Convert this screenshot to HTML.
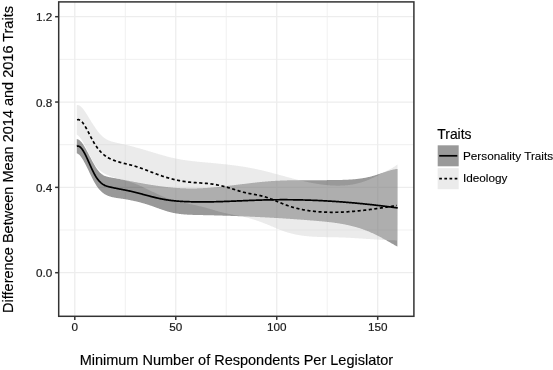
<!DOCTYPE html>
<html><head><meta charset="utf-8"><style>
html,body{margin:0;padding:0;background:#fff;}
svg{display:block;will-change:transform;}
.gmin{stroke:#eeeeee;stroke-width:0.9;}
.gmaj{stroke:#ededed;stroke-width:1.3;}
.border{fill:none;stroke:#333;stroke-width:1.5;}
.tick{stroke:#333;stroke-width:1.5;}
.lp{fill:none;stroke:#000;stroke-width:1.7;}
.li{fill:none;stroke:#000;stroke-width:1.7;stroke-dasharray:3.1 2.5;}
text{font-family:"Liberation Sans",sans-serif;}
.tl{font-size:11.7px;fill:#1a1a1a;stroke:#1a1a1a;stroke-width:0.2px;}
.at{font-size:14.5px;fill:#000;stroke:#000;stroke-width:0.15px;}
.lg{font-size:13.9px;fill:#000;stroke:#000;stroke-width:0.15px;}
.lt{font-size:11.75px;fill:#000;stroke:#000;stroke-width:0.12px;}
</style></head><body>
<svg width="553" height="370" viewBox="0 0 553 370">
<rect width="553" height="370" fill="#fff"/>
<line x1="125.28" y1="1.90" x2="125.28" y2="316.30" class="gmin"/>
<line x1="226.25" y1="1.90" x2="226.25" y2="316.30" class="gmin"/>
<line x1="327.21" y1="1.90" x2="327.21" y2="316.30" class="gmin"/>
<line x1="58.70" y1="230.03" x2="413.90" y2="230.03" class="gmin"/>
<line x1="58.70" y1="144.70" x2="413.90" y2="144.70" class="gmin"/>
<line x1="58.70" y1="59.37" x2="413.90" y2="59.37" class="gmin"/>
<line x1="74.80" y1="1.90" x2="74.80" y2="316.30" class="gmaj"/>
<line x1="175.76" y1="1.90" x2="175.76" y2="316.30" class="gmaj"/>
<line x1="276.73" y1="1.90" x2="276.73" y2="316.30" class="gmaj"/>
<line x1="377.69" y1="1.90" x2="377.69" y2="316.30" class="gmaj"/>
<line x1="58.70" y1="272.70" x2="413.90" y2="272.70" class="gmaj"/>
<line x1="58.70" y1="187.37" x2="413.90" y2="187.37" class="gmaj"/>
<line x1="58.70" y1="102.04" x2="413.90" y2="102.04" class="gmaj"/>
<line x1="58.70" y1="16.70" x2="413.90" y2="16.70" class="gmaj"/>
<path d="M76.80 139.09L77.30 139.13L77.80 139.25L78.30 139.45L78.80 139.72L79.30 140.05L79.80 140.45L80.30 140.91L80.80 141.42L81.30 141.99L81.80 142.60L82.30 143.27L82.80 143.97L83.30 144.71L83.80 145.49L84.30 146.31L84.80 147.15L85.30 148.01L85.80 148.90L86.30 149.80L86.80 150.72L87.30 151.65L87.80 152.59L88.30 153.54L88.80 154.50L89.30 155.45L89.80 156.41L90.30 157.36L90.80 158.32L91.30 159.26L91.80 160.20L92.30 161.13L92.80 162.05L93.30 162.95L93.80 163.84L94.30 164.71L94.80 165.55L95.30 166.38L95.80 167.18L96.30 167.95L96.80 168.69L97.30 169.40L97.80 170.08L98.30 170.72L98.80 171.33L99.30 171.89L99.80 172.41L100.30 172.90L100.80 173.35L101.30 173.77L101.80 174.16L102.30 174.51L102.80 174.83L103.30 175.13L103.80 175.40L104.30 175.65L104.80 175.88L105.30 176.08L105.80 176.27L106.30 176.44L106.80 176.59L107.30 176.73L107.80 176.85L108.30 176.97L108.80 177.08L109.30 177.18L109.80 177.27L110.30 177.36L110.80 177.45L111.30 177.54L111.80 177.63L112.30 177.72L112.80 177.81L113.30 177.90L113.80 177.99L114.30 178.08L114.80 178.18L115.30 178.27L115.80 178.36L116.30 178.46L116.80 178.55L117.30 178.64L117.80 178.74L118.30 178.83L118.80 178.93L119.30 179.02L119.80 179.12L120.30 179.21L120.80 179.31L121.30 179.41L121.80 179.50L122.30 179.60L122.80 179.70L123.30 179.79L123.80 179.89L124.30 179.99L124.80 180.08L125.30 180.18L125.80 180.28L126.30 180.37L126.80 180.47L127.30 180.57L127.80 180.67L128.30 180.76L128.80 180.86L129.30 180.96L129.80 181.05L130.30 181.15L130.80 181.24L131.30 181.34L131.80 181.43L132.30 181.53L132.80 181.62L133.30 181.72L133.80 181.81L134.30 181.91L134.80 182.00L135.30 182.10L135.80 182.19L136.30 182.28L136.80 182.37L137.30 182.47L137.80 182.56L138.30 182.65L138.80 182.74L139.30 182.83L139.80 182.92L140.30 183.01L140.80 183.10L141.30 183.19L141.80 183.28L142.30 183.37L142.80 183.46L143.30 183.55L143.80 183.63L144.30 183.72L144.80 183.81L145.30 183.89L145.80 183.98L146.30 184.06L146.80 184.15L147.30 184.23L147.80 184.31L148.30 184.39L148.80 184.48L149.30 184.56L149.80 184.64L150.30 184.72L150.80 184.80L151.30 184.88L151.80 184.96L152.30 185.04L152.80 185.11L153.30 185.19L153.80 185.27L154.30 185.34L154.80 185.42L155.30 185.49L155.80 185.56L156.30 185.64L156.80 185.71L157.30 185.78L157.80 185.85L158.30 185.92L158.80 185.99L159.30 186.06L159.80 186.13L160.30 186.19L160.80 186.26L161.30 186.32L161.80 186.39L162.30 186.45L162.80 186.52L163.30 186.58L163.80 186.64L164.30 186.70L164.80 186.76L165.30 186.82L165.80 186.88L166.30 186.93L166.80 186.99L167.30 187.04L167.80 187.10L168.30 187.15L168.80 187.21L169.30 187.26L169.80 187.31L170.30 187.36L170.80 187.41L171.30 187.45L171.80 187.50L172.30 187.55L172.80 187.59L173.30 187.63L173.80 187.68L174.30 187.72L174.80 187.76L175.30 187.80L175.80 187.84L176.30 187.87L176.80 187.91L177.30 187.95L177.80 187.98L178.30 188.01L178.80 188.05L179.30 188.08L179.80 188.11L180.30 188.14L180.80 188.16L181.30 188.19L181.80 188.21L182.30 188.24L182.80 188.26L183.30 188.28L183.80 188.30L184.30 188.32L184.80 188.34L185.30 188.36L185.80 188.37L186.30 188.39L186.80 188.40L187.30 188.41L187.80 188.42L188.30 188.43L188.80 188.44L189.30 188.44L189.80 188.45L190.30 188.45L190.80 188.45L191.30 188.46L191.80 188.46L192.30 188.45L192.80 188.45L193.30 188.45L193.80 188.44L194.30 188.44L194.80 188.43L195.30 188.42L195.80 188.41L196.30 188.40L196.80 188.38L197.30 188.37L197.80 188.36L198.30 188.34L198.80 188.32L199.30 188.30L199.80 188.29L200.30 188.27L200.80 188.24L201.30 188.22L201.80 188.20L202.30 188.17L202.80 188.15L203.30 188.12L203.80 188.09L204.30 188.07L204.80 188.04L205.30 188.01L205.80 187.98L206.30 187.94L206.80 187.91L207.30 187.88L207.80 187.84L208.30 187.81L208.80 187.77L209.30 187.73L209.80 187.69L210.30 187.66L210.80 187.62L211.30 187.58L211.80 187.53L212.30 187.49L212.80 187.45L213.30 187.41L213.80 187.36L214.30 187.32L214.80 187.27L215.30 187.23L215.80 187.18L216.30 187.13L216.80 187.08L217.30 187.04L217.80 186.99L218.30 186.94L218.80 186.89L219.30 186.83L219.80 186.78L220.30 186.73L220.80 186.68L221.30 186.63L221.80 186.57L222.30 186.52L222.80 186.46L223.30 186.41L223.80 186.35L224.30 186.30L224.80 186.24L225.30 186.19L225.80 186.13L226.30 186.07L226.80 186.01L227.30 185.96L227.80 185.90L228.30 185.84L228.80 185.78L229.30 185.72L229.80 185.66L230.30 185.60L230.80 185.54L231.30 185.48L231.80 185.42L232.30 185.36L232.80 185.30L233.30 185.24L233.80 185.18L234.30 185.12L234.80 185.05L235.30 184.99L235.80 184.93L236.30 184.87L236.80 184.81L237.30 184.74L237.80 184.68L238.30 184.62L238.80 184.56L239.30 184.50L239.80 184.43L240.30 184.37L240.80 184.31L241.30 184.25L241.80 184.19L242.30 184.12L242.80 184.06L243.30 184.00L243.80 183.94L244.30 183.88L244.80 183.82L245.30 183.76L245.80 183.69L246.30 183.63L246.80 183.57L247.30 183.51L247.80 183.45L248.30 183.39L248.80 183.33L249.30 183.27L249.80 183.21L250.30 183.15L250.80 183.10L251.30 183.04L251.80 182.98L252.30 182.92L252.80 182.86L253.30 182.81L253.80 182.75L254.30 182.69L254.80 182.64L255.30 182.58L255.80 182.53L256.30 182.47L256.80 182.42L257.30 182.37L257.80 182.31L258.30 182.26L258.80 182.21L259.30 182.16L259.80 182.11L260.30 182.06L260.80 182.01L261.30 181.96L261.80 181.91L262.30 181.86L262.80 181.81L263.30 181.77L263.80 181.72L264.30 181.67L264.80 181.63L265.30 181.59L265.80 181.54L266.30 181.50L266.80 181.46L267.30 181.42L267.80 181.38L268.30 181.34L268.80 181.30L269.30 181.26L269.80 181.22L270.30 181.18L270.80 181.15L271.30 181.11L271.80 181.08L272.30 181.05L272.80 181.01L273.30 180.98L273.80 180.95L274.30 180.92L274.80 180.89L275.30 180.86L275.80 180.84L276.30 180.81L276.80 180.78L277.30 180.76L277.80 180.73L278.30 180.71L278.80 180.68L279.30 180.66L279.80 180.64L280.30 180.62L280.80 180.60L281.30 180.57L281.80 180.55L282.30 180.54L282.80 180.52L283.30 180.50L283.80 180.48L284.30 180.46L284.80 180.45L285.30 180.43L285.80 180.42L286.30 180.40L286.80 180.39L287.30 180.37L287.80 180.36L288.30 180.35L288.80 180.34L289.30 180.32L289.80 180.31L290.30 180.30L290.80 180.29L291.30 180.28L291.80 180.27L292.30 180.26L292.80 180.26L293.30 180.25L293.80 180.24L294.30 180.23L294.80 180.23L295.30 180.22L295.80 180.21L296.30 180.21L296.80 180.20L297.30 180.20L297.80 180.19L298.30 180.19L298.80 180.18L299.30 180.18L299.80 180.17L300.30 180.17L300.80 180.17L301.30 180.16L301.80 180.16L302.30 180.16L302.80 180.16L303.30 180.15L303.80 180.15L304.30 180.15L304.80 180.15L305.30 180.15L305.80 180.15L306.30 180.15L306.80 180.14L307.30 180.14L307.80 180.14L308.30 180.14L308.80 180.14L309.30 180.14L309.80 180.14L310.30 180.14L310.80 180.14L311.30 180.14L311.80 180.14L312.30 180.14L312.80 180.14L313.30 180.14L313.80 180.14L314.30 180.14L314.80 180.14L315.30 180.14L315.80 180.14L316.30 180.14L316.80 180.14L317.30 180.14L317.80 180.14L318.30 180.14L318.80 180.14L319.30 180.14L319.80 180.14L320.30 180.14L320.80 180.14L321.30 180.14L321.80 180.14L322.30 180.14L322.80 180.14L323.30 180.14L323.80 180.14L324.30 180.14L324.80 180.13L325.30 180.13L325.80 180.13L326.30 180.13L326.80 180.13L327.30 180.12L327.80 180.12L328.30 180.12L328.80 180.11L329.30 180.11L329.80 180.11L330.30 180.10L330.80 180.10L331.30 180.09L331.80 180.09L332.30 180.08L332.80 180.07L333.30 180.07L333.80 180.06L334.30 180.05L334.80 180.05L335.30 180.04L335.80 180.03L336.30 180.02L336.80 180.01L337.30 180.00L337.80 179.99L338.30 179.98L338.80 179.97L339.30 179.96L339.80 179.95L340.30 179.94L340.80 179.93L341.30 179.91L341.80 179.90L342.30 179.88L342.80 179.87L343.30 179.85L343.80 179.84L344.30 179.82L344.80 179.80L345.30 179.78L345.80 179.76L346.30 179.74L346.80 179.72L347.30 179.69L347.80 179.67L348.30 179.64L348.80 179.62L349.30 179.59L349.80 179.56L350.30 179.53L350.80 179.50L351.30 179.46L351.80 179.43L352.30 179.39L352.80 179.35L353.30 179.31L353.80 179.27L354.30 179.23L354.80 179.18L355.30 179.13L355.80 179.08L356.30 179.03L356.80 178.98L357.30 178.92L357.80 178.87L358.30 178.81L358.80 178.75L359.30 178.68L359.80 178.62L360.30 178.55L360.80 178.48L361.30 178.41L361.80 178.33L362.30 178.25L362.80 178.17L363.30 178.09L363.80 178.00L364.30 177.92L364.80 177.83L365.30 177.73L365.80 177.64L366.30 177.54L366.80 177.43L367.30 177.33L367.80 177.22L368.30 177.11L368.80 177.00L369.30 176.88L369.80 176.76L370.30 176.64L370.80 176.51L371.30 176.38L371.80 176.25L372.30 176.11L372.80 175.97L373.30 175.82L373.80 175.68L374.30 175.53L374.80 175.38L375.30 175.22L375.80 175.06L376.30 174.90L376.80 174.74L377.30 174.58L377.80 174.41L378.30 174.25L378.80 174.08L379.30 173.91L379.80 173.74L380.30 173.57L380.80 173.40L381.30 173.23L381.80 173.06L382.30 172.89L382.80 172.72L383.30 172.55L383.80 172.38L384.30 172.22L384.80 172.05L385.30 171.89L385.80 171.72L386.30 171.56L386.80 171.40L387.30 171.25L387.80 171.09L388.30 170.94L388.80 170.79L389.30 170.65L389.80 170.50L390.30 170.36L390.80 170.23L391.30 170.10L391.80 169.97L392.30 169.84L392.80 169.72L393.30 169.61L393.80 169.50L394.30 169.40L394.80 169.30L395.30 169.20L395.80 169.11L396.30 169.03L396.80 168.95L397.30 168.88L397.50 168.86L397.40 246.65L397.30 246.59L396.80 246.31L396.30 246.02L395.80 245.74L395.30 245.45L394.80 245.17L394.30 244.88L393.80 244.60L393.30 244.31L392.80 244.03L392.30 243.74L391.80 243.45L391.30 243.17L390.80 242.88L390.30 242.60L389.80 242.31L389.30 242.03L388.80 241.75L388.30 241.46L387.80 241.18L387.30 240.90L386.80 240.62L386.30 240.34L385.80 240.06L385.30 239.78L384.80 239.50L384.30 239.23L383.80 238.95L383.30 238.68L382.80 238.41L382.30 238.14L381.80 237.87L381.30 237.60L380.80 237.33L380.30 237.07L379.80 236.80L379.30 236.54L378.80 236.28L378.30 236.02L377.80 235.77L377.30 235.51L376.80 235.26L376.30 235.01L375.80 234.77L375.30 234.52L374.80 234.28L374.30 234.04L373.80 233.80L373.30 233.57L372.80 233.33L372.30 233.10L371.80 232.88L371.30 232.65L370.80 232.43L370.30 232.21L369.80 232.00L369.30 231.78L368.80 231.57L368.30 231.37L367.80 231.16L367.30 230.96L366.80 230.76L366.30 230.57L365.80 230.38L365.30 230.19L364.80 230.00L364.30 229.82L363.80 229.63L363.30 229.45L362.80 229.28L362.30 229.10L361.80 228.93L361.30 228.76L360.80 228.60L360.30 228.44L359.80 228.27L359.30 228.12L358.80 227.96L358.30 227.81L357.80 227.65L357.30 227.51L356.80 227.36L356.30 227.21L355.80 227.07L355.30 226.93L354.80 226.79L354.30 226.66L353.80 226.53L353.30 226.40L352.80 226.27L352.30 226.14L351.80 226.01L351.30 225.89L350.80 225.77L350.30 225.65L349.80 225.54L349.30 225.42L348.80 225.31L348.30 225.20L347.80 225.09L347.30 224.98L346.80 224.88L346.30 224.77L345.80 224.67L345.30 224.57L344.80 224.47L344.30 224.37L343.80 224.28L343.30 224.19L342.80 224.09L342.30 224.00L341.80 223.92L341.30 223.83L340.80 223.74L340.30 223.66L339.80 223.58L339.30 223.49L338.80 223.41L338.30 223.34L337.80 223.26L337.30 223.18L336.80 223.11L336.30 223.04L335.80 222.96L335.30 222.89L334.80 222.82L334.30 222.76L333.80 222.69L333.30 222.62L332.80 222.56L332.30 222.49L331.80 222.43L331.30 222.37L330.80 222.31L330.30 222.25L329.80 222.19L329.30 222.13L328.80 222.08L328.30 222.02L327.80 221.97L327.30 221.91L326.80 221.86L326.30 221.80L325.80 221.75L325.30 221.70L324.80 221.65L324.30 221.60L323.80 221.55L323.30 221.50L322.80 221.46L322.30 221.41L321.80 221.36L321.30 221.31L320.80 221.27L320.30 221.22L319.80 221.18L319.30 221.13L318.80 221.09L318.30 221.05L317.80 221.00L317.30 220.96L316.80 220.92L316.30 220.87L315.80 220.83L315.30 220.79L314.80 220.75L314.30 220.71L313.80 220.66L313.30 220.62L312.80 220.58L312.30 220.54L311.80 220.50L311.30 220.46L310.80 220.42L310.30 220.38L309.80 220.34L309.30 220.30L308.80 220.26L308.30 220.22L307.80 220.18L307.30 220.14L306.80 220.10L306.30 220.06L305.80 220.02L305.30 219.98L304.80 219.94L304.30 219.90L303.80 219.87L303.30 219.83L302.80 219.79L302.30 219.75L301.80 219.71L301.30 219.68L300.80 219.64L300.30 219.60L299.80 219.57L299.30 219.53L298.80 219.49L298.30 219.46L297.80 219.42L297.30 219.38L296.80 219.35L296.30 219.31L295.80 219.28L295.30 219.24L294.80 219.20L294.30 219.17L293.80 219.13L293.30 219.10L292.80 219.06L292.30 219.03L291.80 219.00L291.30 218.96L290.80 218.93L290.30 218.89L289.80 218.86L289.30 218.83L288.80 218.79L288.30 218.76L287.80 218.72L287.30 218.69L286.80 218.66L286.30 218.63L285.80 218.59L285.30 218.56L284.80 218.53L284.30 218.50L283.80 218.46L283.30 218.43L282.80 218.40L282.30 218.37L281.80 218.34L281.30 218.31L280.80 218.28L280.30 218.25L279.80 218.21L279.30 218.18L278.80 218.15L278.30 218.12L277.80 218.09L277.30 218.06L276.80 218.03L276.30 218.00L275.80 217.97L275.30 217.94L274.80 217.91L274.30 217.89L273.80 217.86L273.30 217.83L272.80 217.80L272.30 217.77L271.80 217.74L271.30 217.71L270.80 217.69L270.30 217.66L269.80 217.63L269.30 217.60L268.80 217.57L268.30 217.55L267.80 217.52L267.30 217.49L266.80 217.47L266.30 217.44L265.80 217.41L265.30 217.39L264.80 217.36L264.30 217.33L263.80 217.31L263.30 217.28L262.80 217.26L262.30 217.23L261.80 217.20L261.30 217.18L260.80 217.15L260.30 217.13L259.80 217.10L259.30 217.08L258.80 217.05L258.30 217.03L257.80 217.01L257.30 216.98L256.80 216.96L256.30 216.93L255.80 216.91L255.30 216.89L254.80 216.86L254.30 216.84L253.80 216.82L253.30 216.79L252.80 216.77L252.30 216.75L251.80 216.72L251.30 216.70L250.80 216.68L250.30 216.66L249.80 216.63L249.30 216.61L248.80 216.59L248.30 216.57L247.80 216.55L247.30 216.52L246.80 216.50L246.30 216.48L245.80 216.46L245.30 216.44L244.80 216.42L244.30 216.40L243.80 216.38L243.30 216.36L242.80 216.34L242.30 216.32L241.80 216.30L241.30 216.28L240.80 216.26L240.30 216.24L239.80 216.22L239.30 216.20L238.80 216.18L238.30 216.16L237.80 216.14L237.30 216.12L236.80 216.10L236.30 216.08L235.80 216.07L235.30 216.05L234.80 216.03L234.30 216.01L233.80 215.99L233.30 215.98L232.80 215.96L232.30 215.94L231.80 215.92L231.30 215.91L230.80 215.89L230.30 215.87L229.80 215.85L229.30 215.84L228.80 215.82L228.30 215.80L227.80 215.79L227.30 215.77L226.80 215.75L226.30 215.74L225.80 215.72L225.30 215.71L224.80 215.69L224.30 215.68L223.80 215.66L223.30 215.64L222.80 215.63L222.30 215.61L221.80 215.60L221.30 215.58L220.80 215.57L220.30 215.55L219.80 215.54L219.30 215.53L218.80 215.51L218.30 215.50L217.80 215.48L217.30 215.47L216.80 215.45L216.30 215.44L215.80 215.43L215.30 215.41L214.80 215.40L214.30 215.39L213.80 215.37L213.30 215.36L212.80 215.35L212.30 215.34L211.80 215.32L211.30 215.31L210.80 215.30L210.30 215.29L209.80 215.27L209.30 215.26L208.80 215.25L208.30 215.24L207.80 215.23L207.30 215.21L206.80 215.20L206.30 215.19L205.80 215.18L205.30 215.17L204.80 215.16L204.30 215.15L203.80 215.14L203.30 215.13L202.80 215.11L202.30 215.10L201.80 215.09L201.30 215.08L200.80 215.07L200.30 215.06L199.80 215.05L199.30 215.04L198.80 215.03L198.30 215.02L197.80 215.01L197.30 215.00L196.80 214.99L196.30 214.98L195.80 214.97L195.30 214.96L194.80 214.95L194.30 214.93L193.80 214.92L193.30 214.91L192.80 214.89L192.30 214.87L191.80 214.86L191.30 214.84L190.80 214.82L190.30 214.80L189.80 214.78L189.30 214.75L188.80 214.73L188.30 214.70L187.80 214.68L187.30 214.65L186.80 214.62L186.30 214.58L185.80 214.55L185.30 214.51L184.80 214.48L184.30 214.44L183.80 214.39L183.30 214.35L182.80 214.30L182.30 214.25L181.80 214.20L181.30 214.15L180.80 214.09L180.30 214.03L179.80 213.97L179.30 213.91L178.80 213.84L178.30 213.77L177.80 213.70L177.30 213.62L176.80 213.54L176.30 213.46L175.80 213.38L175.30 213.29L174.80 213.20L174.30 213.10L173.80 213.00L173.30 212.90L172.80 212.79L172.30 212.68L171.80 212.57L171.30 212.45L170.80 212.33L170.30 212.20L169.80 212.08L169.30 211.94L168.80 211.81L168.30 211.67L167.80 211.52L167.30 211.38L166.80 211.23L166.30 211.07L165.80 210.92L165.30 210.76L164.80 210.60L164.30 210.44L163.80 210.27L163.30 210.11L162.80 209.94L162.30 209.77L161.80 209.59L161.30 209.42L160.80 209.24L160.30 209.07L159.80 208.89L159.30 208.71L158.80 208.53L158.30 208.35L157.80 208.17L157.30 207.99L156.80 207.81L156.30 207.63L155.80 207.45L155.30 207.27L154.80 207.08L154.30 206.90L153.80 206.72L153.30 206.55L152.80 206.37L152.30 206.19L151.80 206.01L151.30 205.84L150.80 205.67L150.30 205.50L149.80 205.33L149.30 205.16L148.80 204.99L148.30 204.83L147.80 204.67L147.30 204.51L146.80 204.35L146.30 204.19L145.80 204.04L145.30 203.89L144.80 203.74L144.30 203.59L143.80 203.45L143.30 203.30L142.80 203.16L142.30 203.02L141.80 202.88L141.30 202.75L140.80 202.61L140.30 202.48L139.80 202.35L139.30 202.22L138.80 202.09L138.30 201.97L137.80 201.84L137.30 201.72L136.80 201.60L136.30 201.48L135.80 201.37L135.30 201.25L134.80 201.14L134.30 201.03L133.80 200.92L133.30 200.81L132.80 200.70L132.30 200.60L131.80 200.49L131.30 200.39L130.80 200.29L130.30 200.19L129.80 200.09L129.30 200.00L128.80 199.90L128.30 199.81L127.80 199.72L127.30 199.62L126.80 199.53L126.30 199.45L125.80 199.36L125.30 199.27L124.80 199.19L124.30 199.11L123.80 199.03L123.30 198.94L122.80 198.87L122.30 198.79L121.80 198.71L121.30 198.63L120.80 198.56L120.30 198.49L119.80 198.41L119.30 198.34L118.80 198.27L118.30 198.20L117.80 198.13L117.30 198.06L116.80 197.98L116.30 197.90L115.80 197.82L115.30 197.74L114.80 197.65L114.30 197.56L113.80 197.46L113.30 197.36L112.80 197.25L112.30 197.13L111.80 197.01L111.30 196.88L110.80 196.74L110.30 196.59L109.80 196.43L109.30 196.27L108.80 196.09L108.30 195.90L107.80 195.70L107.30 195.49L106.80 195.26L106.30 195.02L105.80 194.77L105.30 194.50L104.80 194.21L104.30 193.91L103.80 193.58L103.30 193.23L102.80 192.86L102.30 192.47L101.80 192.04L101.30 191.60L100.80 191.12L100.30 190.62L99.80 190.08L99.30 189.51L98.80 188.91L98.30 188.27L97.80 187.60L97.30 186.90L96.80 186.16L96.30 185.40L95.80 184.60L95.30 183.78L94.80 182.92L94.30 182.04L93.80 181.13L93.30 180.20L92.80 179.24L92.30 178.27L91.80 177.28L91.30 176.27L90.80 175.25L90.30 174.23L89.80 173.19L89.30 172.15L88.80 171.11L88.30 170.07L87.80 169.04L87.30 168.01L86.80 166.99L86.30 165.98L85.80 164.99L85.30 164.01L84.80 163.06L84.30 162.13L83.80 161.23L83.30 160.36L82.80 159.52L82.30 158.72L81.80 157.96L81.30 157.24L80.80 156.57L80.30 155.94L79.80 155.37L79.30 154.85L78.80 154.39L78.30 153.99L77.80 153.66L77.30 153.39L76.80 153.19Z" fill="#000" fill-opacity="0.4"/>
<path d="M76.80 105.17L77.30 105.10L77.80 105.10L78.30 105.18L78.80 105.33L79.30 105.54L79.80 105.81L80.30 106.15L80.80 106.54L81.30 106.98L81.80 107.46L82.30 108.00L82.80 108.58L83.30 109.19L83.80 109.84L84.30 110.53L84.80 111.24L85.30 111.98L85.80 112.74L86.30 113.51L86.80 114.31L87.30 115.12L87.80 115.93L88.30 116.75L88.80 117.58L89.30 118.40L89.80 119.22L90.30 120.04L90.80 120.86L91.30 121.67L91.80 122.47L92.30 123.27L92.80 124.06L93.30 124.84L93.80 125.61L94.30 126.37L94.80 127.12L95.30 127.86L95.80 128.58L96.30 129.29L96.80 129.98L97.30 130.65L97.80 131.31L98.30 131.95L98.80 132.57L99.30 133.17L99.80 133.75L100.30 134.30L100.80 134.83L101.30 135.34L101.80 135.82L102.30 136.28L102.80 136.72L103.30 137.13L103.80 137.53L104.30 137.90L104.80 138.25L105.30 138.59L105.80 138.90L106.30 139.20L106.80 139.48L107.30 139.75L107.80 140.00L108.30 140.23L108.80 140.45L109.30 140.66L109.80 140.86L110.30 141.05L110.80 141.22L111.30 141.39L111.80 141.55L112.30 141.70L112.80 141.84L113.30 141.97L113.80 142.10L114.30 142.22L114.80 142.34L115.30 142.46L115.80 142.57L116.30 142.68L116.80 142.79L117.30 142.90L117.80 143.01L118.30 143.12L118.80 143.23L119.30 143.34L119.80 143.45L120.30 143.57L120.80 143.68L121.30 143.79L121.80 143.91L122.30 144.02L122.80 144.14L123.30 144.25L123.80 144.37L124.30 144.49L124.80 144.61L125.30 144.73L125.80 144.84L126.30 144.96L126.80 145.09L127.30 145.21L127.80 145.33L128.30 145.45L128.80 145.58L129.30 145.70L129.80 145.83L130.30 145.95L130.80 146.08L131.30 146.21L131.80 146.33L132.30 146.46L132.80 146.59L133.30 146.72L133.80 146.85L134.30 146.99L134.80 147.12L135.30 147.25L135.80 147.39L136.30 147.52L136.80 147.66L137.30 147.80L137.80 147.93L138.30 148.07L138.80 148.21L139.30 148.35L139.80 148.49L140.30 148.63L140.80 148.78L141.30 148.92L141.80 149.06L142.30 149.21L142.80 149.36L143.30 149.50L143.80 149.65L144.30 149.80L144.80 149.94L145.30 150.09L145.80 150.24L146.30 150.39L146.80 150.54L147.30 150.69L147.80 150.84L148.30 150.99L148.80 151.14L149.30 151.29L149.80 151.45L150.30 151.60L150.80 151.75L151.30 151.90L151.80 152.05L152.30 152.20L152.80 152.35L153.30 152.50L153.80 152.66L154.30 152.81L154.80 152.96L155.30 153.11L155.80 153.26L156.30 153.41L156.80 153.56L157.30 153.70L157.80 153.85L158.30 154.00L158.80 154.15L159.30 154.29L159.80 154.44L160.30 154.58L160.80 154.73L161.30 154.87L161.80 155.01L162.30 155.16L162.80 155.30L163.30 155.44L163.80 155.58L164.30 155.71L164.80 155.85L165.30 155.99L165.80 156.12L166.30 156.26L166.80 156.39L167.30 156.52L167.80 156.65L168.30 156.78L168.80 156.90L169.30 157.03L169.80 157.16L170.30 157.28L170.80 157.40L171.30 157.52L171.80 157.64L172.30 157.75L172.80 157.87L173.30 157.98L173.80 158.09L174.30 158.20L174.80 158.31L175.30 158.42L175.80 158.52L176.30 158.63L176.80 158.73L177.30 158.82L177.80 158.92L178.30 159.02L178.80 159.11L179.30 159.20L179.80 159.29L180.30 159.38L180.80 159.47L181.30 159.55L181.80 159.64L182.30 159.72L182.80 159.80L183.30 159.88L183.80 159.96L184.30 160.03L184.80 160.11L185.30 160.18L185.80 160.26L186.30 160.33L186.80 160.40L187.30 160.47L187.80 160.53L188.30 160.60L188.80 160.66L189.30 160.73L189.80 160.79L190.30 160.85L190.80 160.91L191.30 160.98L191.80 161.03L192.30 161.09L192.80 161.15L193.30 161.21L193.80 161.26L194.30 161.32L194.80 161.37L195.30 161.42L195.80 161.48L196.30 161.53L196.80 161.58L197.30 161.63L197.80 161.68L198.30 161.73L198.80 161.78L199.30 161.83L199.80 161.88L200.30 161.92L200.80 161.97L201.30 162.02L201.80 162.06L202.30 162.11L202.80 162.16L203.30 162.20L203.80 162.25L204.30 162.29L204.80 162.34L205.30 162.38L205.80 162.43L206.30 162.47L206.80 162.52L207.30 162.56L207.80 162.60L208.30 162.65L208.80 162.69L209.30 162.74L209.80 162.78L210.30 162.83L210.80 162.87L211.30 162.92L211.80 162.96L212.30 163.01L212.80 163.06L213.30 163.10L213.80 163.15L214.30 163.19L214.80 163.24L215.30 163.29L215.80 163.34L216.30 163.38L216.80 163.43L217.30 163.48L217.80 163.53L218.30 163.58L218.80 163.63L219.30 163.68L219.80 163.73L220.30 163.78L220.80 163.83L221.30 163.88L221.80 163.93L222.30 163.98L222.80 164.04L223.30 164.09L223.80 164.14L224.30 164.20L224.80 164.25L225.30 164.31L225.80 164.36L226.30 164.42L226.80 164.47L227.30 164.53L227.80 164.59L228.30 164.65L228.80 164.70L229.30 164.76L229.80 164.82L230.30 164.88L230.80 164.94L231.30 165.01L231.80 165.07L232.30 165.13L232.80 165.19L233.30 165.26L233.80 165.32L234.30 165.39L234.80 165.45L235.30 165.52L235.80 165.59L236.30 165.66L236.80 165.73L237.30 165.80L237.80 165.87L238.30 165.94L238.80 166.01L239.30 166.08L239.80 166.16L240.30 166.23L240.80 166.31L241.30 166.38L241.80 166.46L242.30 166.54L242.80 166.62L243.30 166.70L243.80 166.78L244.30 166.86L244.80 166.94L245.30 167.02L245.80 167.11L246.30 167.19L246.80 167.28L247.30 167.37L247.80 167.45L248.30 167.54L248.80 167.63L249.30 167.72L249.80 167.82L250.30 167.91L250.80 168.00L251.30 168.10L251.80 168.20L252.30 168.29L252.80 168.39L253.30 168.49L253.80 168.59L254.30 168.69L254.80 168.80L255.30 168.90L255.80 169.01L256.30 169.11L256.80 169.22L257.30 169.33L257.80 169.44L258.30 169.55L258.80 169.66L259.30 169.77L259.80 169.89L260.30 170.00L260.80 170.12L261.30 170.24L261.80 170.35L262.30 170.47L262.80 170.59L263.30 170.71L263.80 170.83L264.30 170.96L264.80 171.08L265.30 171.20L265.80 171.33L266.30 171.45L266.80 171.58L267.30 171.70L267.80 171.83L268.30 171.96L268.80 172.09L269.30 172.22L269.80 172.35L270.30 172.48L270.80 172.61L271.30 172.74L271.80 172.87L272.30 173.00L272.80 173.13L273.30 173.27L273.80 173.40L274.30 173.53L274.80 173.67L275.30 173.80L275.80 173.93L276.30 174.07L276.80 174.20L277.30 174.34L277.80 174.47L278.30 174.61L278.80 174.74L279.30 174.88L279.80 175.02L280.30 175.15L280.80 175.29L281.30 175.42L281.80 175.56L282.30 175.70L282.80 175.83L283.30 175.97L283.80 176.10L284.30 176.24L284.80 176.37L285.30 176.51L285.80 176.64L286.30 176.78L286.80 176.91L287.30 177.05L287.80 177.18L288.30 177.32L288.80 177.45L289.30 177.58L289.80 177.72L290.30 177.85L290.80 177.98L291.30 178.11L291.80 178.24L292.30 178.38L292.80 178.51L293.30 178.64L293.80 178.76L294.30 178.89L294.80 179.02L295.30 179.15L295.80 179.28L296.30 179.40L296.80 179.53L297.30 179.65L297.80 179.78L298.30 179.90L298.80 180.02L299.30 180.15L299.80 180.27L300.30 180.39L300.80 180.51L301.30 180.63L301.80 180.74L302.30 180.86L302.80 180.98L303.30 181.09L303.80 181.21L304.30 181.32L304.80 181.43L305.30 181.55L305.80 181.66L306.30 181.77L306.80 181.87L307.30 181.98L307.80 182.09L308.30 182.19L308.80 182.30L309.30 182.40L309.80 182.50L310.30 182.60L310.80 182.70L311.30 182.80L311.80 182.89L312.30 182.99L312.80 183.08L313.30 183.18L313.80 183.27L314.30 183.36L314.80 183.45L315.30 183.53L315.80 183.62L316.30 183.70L316.80 183.79L317.30 183.87L317.80 183.95L318.30 184.02L318.80 184.10L319.30 184.18L319.80 184.25L320.30 184.32L320.80 184.39L321.30 184.46L321.80 184.53L322.30 184.59L322.80 184.65L323.30 184.72L323.80 184.78L324.30 184.83L324.80 184.89L325.30 184.95L325.80 185.00L326.30 185.05L326.80 185.10L327.30 185.14L327.80 185.19L328.30 185.23L328.80 185.27L329.30 185.31L329.80 185.35L330.30 185.38L330.80 185.42L331.30 185.45L331.80 185.48L332.30 185.50L332.80 185.53L333.30 185.55L333.80 185.57L334.30 185.59L334.80 185.60L335.30 185.62L335.80 185.63L336.30 185.64L336.80 185.64L337.30 185.65L337.80 185.65L338.30 185.65L338.80 185.65L339.30 185.64L339.80 185.63L340.30 185.62L340.80 185.61L341.30 185.59L341.80 185.57L342.30 185.55L342.80 185.53L343.30 185.50L343.80 185.47L344.30 185.44L344.80 185.40L345.30 185.36L345.80 185.32L346.30 185.28L346.80 185.23L347.30 185.18L347.80 185.13L348.30 185.07L348.80 185.01L349.30 184.95L349.80 184.88L350.30 184.81L350.80 184.74L351.30 184.66L351.80 184.58L352.30 184.50L352.80 184.42L353.30 184.33L353.80 184.23L354.30 184.14L354.80 184.04L355.30 183.94L355.80 183.83L356.30 183.72L356.80 183.61L357.30 183.49L357.80 183.37L358.30 183.24L358.80 183.11L359.30 182.98L359.80 182.84L360.30 182.70L360.80 182.56L361.30 182.41L361.80 182.26L362.30 182.10L362.80 181.94L363.30 181.78L363.80 181.61L364.30 181.44L364.80 181.26L365.30 181.08L365.80 180.90L366.30 180.71L366.80 180.51L367.30 180.32L367.80 180.12L368.30 179.91L368.80 179.70L369.30 179.48L369.80 179.26L370.30 179.04L370.80 178.82L371.30 178.59L371.80 178.35L372.30 178.12L372.80 177.88L373.30 177.64L373.80 177.40L374.30 177.15L374.80 176.90L375.30 176.65L375.80 176.40L376.30 176.15L376.80 175.89L377.30 175.63L377.80 175.38L378.30 175.12L378.80 174.86L379.30 174.60L379.80 174.34L380.30 174.08L380.80 173.82L381.30 173.56L381.80 173.30L382.30 173.04L382.80 172.79L383.30 172.53L383.80 172.27L384.30 172.02L384.80 171.77L385.30 171.52L385.80 171.27L386.30 171.02L386.80 170.77L387.30 170.53L387.80 170.28L388.30 170.04L388.80 169.79L389.30 169.54L389.80 169.29L390.30 169.03L390.80 168.77L391.30 168.50L391.80 168.23L392.30 167.95L392.80 167.66L393.30 167.36L393.80 167.06L394.30 166.74L394.80 166.41L395.30 166.07L395.80 165.72L396.30 165.35L396.80 164.97L397.30 164.58L397.50 164.41L397.50 240.42L397.30 240.42L396.80 240.41L396.30 240.40L395.80 240.39L395.30 240.38L394.80 240.37L394.30 240.36L393.80 240.35L393.30 240.33L392.80 240.32L392.30 240.30L391.80 240.29L391.30 240.27L390.80 240.25L390.30 240.24L389.80 240.22L389.30 240.20L388.80 240.18L388.30 240.16L387.80 240.14L387.30 240.12L386.80 240.10L386.30 240.07L385.80 240.05L385.30 240.03L384.80 240.00L384.30 239.98L383.80 239.96L383.30 239.93L382.80 239.90L382.30 239.88L381.80 239.85L381.30 239.82L380.80 239.80L380.30 239.77L379.80 239.74L379.30 239.71L378.80 239.68L378.30 239.65L377.80 239.62L377.30 239.59L376.80 239.56L376.30 239.53L375.80 239.50L375.30 239.47L374.80 239.44L374.30 239.41L373.80 239.37L373.30 239.34L372.80 239.31L372.30 239.28L371.80 239.24L371.30 239.21L370.80 239.18L370.30 239.15L369.80 239.11L369.30 239.08L368.80 239.05L368.30 239.01L367.80 238.98L367.30 238.95L366.80 238.91L366.30 238.88L365.80 238.84L365.30 238.81L364.80 238.78L364.30 238.74L363.80 238.71L363.30 238.68L362.80 238.64L362.30 238.61L361.80 238.58L361.30 238.54L360.80 238.51L360.30 238.48L359.80 238.44L359.30 238.41L358.80 238.38L358.30 238.35L357.80 238.31L357.30 238.28L356.80 238.25L356.30 238.22L355.80 238.19L355.30 238.16L354.80 238.13L354.30 238.10L353.80 238.07L353.30 238.04L352.80 238.01L352.30 237.98L351.80 237.95L351.30 237.92L350.80 237.90L350.30 237.87L349.80 237.84L349.30 237.81L348.80 237.79L348.30 237.76L347.80 237.74L347.30 237.71L346.80 237.69L346.30 237.66L345.80 237.64L345.30 237.62L344.80 237.60L344.30 237.58L343.80 237.55L343.30 237.53L342.80 237.51L342.30 237.49L341.80 237.48L341.30 237.46L340.80 237.44L340.30 237.42L339.80 237.41L339.30 237.39L338.80 237.38L338.30 237.37L337.80 237.35L337.30 237.34L336.80 237.33L336.30 237.32L335.80 237.31L335.30 237.30L334.80 237.29L334.30 237.28L333.80 237.27L333.30 237.26L332.80 237.25L332.30 237.24L331.80 237.23L331.30 237.22L330.80 237.22L330.30 237.21L329.80 237.20L329.30 237.19L328.80 237.18L328.30 237.18L327.80 237.17L327.30 237.16L326.80 237.15L326.30 237.14L325.80 237.13L325.30 237.12L324.80 237.11L324.30 237.10L323.80 237.09L323.30 237.08L322.80 237.07L322.30 237.06L321.80 237.04L321.30 237.03L320.80 237.02L320.30 237.00L319.80 236.98L319.30 236.97L318.80 236.95L318.30 236.93L317.80 236.91L317.30 236.89L316.80 236.87L316.30 236.85L315.80 236.82L315.30 236.80L314.80 236.77L314.30 236.75L313.80 236.72L313.30 236.69L312.80 236.66L312.30 236.63L311.80 236.59L311.30 236.56L310.80 236.52L310.30 236.48L309.80 236.44L309.30 236.40L308.80 236.36L308.30 236.31L307.80 236.27L307.30 236.22L306.80 236.17L306.30 236.12L305.80 236.06L305.30 236.01L304.80 235.95L304.30 235.89L303.80 235.83L303.30 235.76L302.80 235.70L302.30 235.63L301.80 235.56L301.30 235.49L300.80 235.41L300.30 235.33L299.80 235.25L299.30 235.17L298.80 235.09L298.30 235.00L297.80 234.91L297.30 234.82L296.80 234.73L296.30 234.63L295.80 234.53L295.30 234.43L294.80 234.32L294.30 234.21L293.80 234.10L293.30 233.99L292.80 233.87L292.30 233.75L291.80 233.63L291.30 233.50L290.80 233.37L290.30 233.24L289.80 233.10L289.30 232.96L288.80 232.82L288.30 232.68L287.80 232.53L287.30 232.38L286.80 232.22L286.30 232.06L285.80 231.90L285.30 231.74L284.80 231.57L284.30 231.39L283.80 231.22L283.30 231.04L282.80 230.86L282.30 230.67L281.80 230.48L281.30 230.29L280.80 230.10L280.30 229.90L279.80 229.71L279.30 229.51L278.80 229.30L278.30 229.10L277.80 228.90L277.30 228.69L276.80 228.48L276.30 228.27L275.80 228.06L275.30 227.85L274.80 227.64L274.30 227.43L273.80 227.22L273.30 227.01L272.80 226.80L272.30 226.59L271.80 226.38L271.30 226.16L270.80 225.95L270.30 225.75L269.80 225.54L269.30 225.33L268.80 225.12L268.30 224.92L267.80 224.71L267.30 224.51L266.80 224.31L266.30 224.11L265.80 223.91L265.30 223.71L264.80 223.51L264.30 223.32L263.80 223.13L263.30 222.93L262.80 222.74L262.30 222.55L261.80 222.36L261.30 222.18L260.80 221.99L260.30 221.81L259.80 221.63L259.30 221.45L258.80 221.27L258.30 221.09L257.80 220.92L257.30 220.75L256.80 220.58L256.30 220.41L255.80 220.24L255.30 220.07L254.80 219.91L254.30 219.75L253.80 219.59L253.30 219.43L252.80 219.28L252.30 219.13L251.80 218.98L251.30 218.83L250.80 218.68L250.30 218.54L249.80 218.40L249.30 218.26L248.80 218.12L248.30 217.99L247.80 217.85L247.30 217.73L246.80 217.60L246.30 217.47L245.80 217.35L245.30 217.23L244.80 217.12L244.30 217.00L243.80 216.89L243.30 216.78L242.80 216.67L242.30 216.56L241.80 216.45L241.30 216.35L240.80 216.24L240.30 216.14L239.80 216.04L239.30 215.94L238.80 215.84L238.30 215.74L237.80 215.65L237.30 215.55L236.80 215.46L236.30 215.36L235.80 215.27L235.30 215.17L234.80 215.08L234.30 214.98L233.80 214.89L233.30 214.79L232.80 214.70L232.30 214.60L231.80 214.51L231.30 214.41L230.80 214.31L230.30 214.22L229.80 214.12L229.30 214.02L228.80 213.92L228.30 213.82L227.80 213.72L227.30 213.61L226.80 213.51L226.30 213.40L225.80 213.29L225.30 213.18L224.80 213.07L224.30 212.95L223.80 212.84L223.30 212.72L222.80 212.60L222.30 212.48L221.80 212.35L221.30 212.22L220.80 212.09L220.30 211.96L219.80 211.82L219.30 211.69L218.80 211.54L218.30 211.40L217.80 211.25L217.30 211.11L216.80 210.96L216.30 210.81L215.80 210.65L215.30 210.50L214.80 210.35L214.30 210.20L213.80 210.04L213.30 209.89L212.80 209.73L212.30 209.58L211.80 209.43L211.30 209.28L210.80 209.13L210.30 208.98L209.80 208.83L209.30 208.69L208.80 208.55L208.30 208.41L207.80 208.27L207.30 208.13L206.80 207.99L206.30 207.86L205.80 207.73L205.30 207.60L204.80 207.47L204.30 207.34L203.80 207.21L203.30 207.09L202.80 206.96L202.30 206.84L201.80 206.72L201.30 206.60L200.80 206.48L200.30 206.36L199.80 206.24L199.30 206.13L198.80 206.01L198.30 205.90L197.80 205.79L197.30 205.67L196.80 205.56L196.30 205.45L195.80 205.34L195.30 205.23L194.80 205.12L194.30 205.01L193.80 204.90L193.30 204.79L192.80 204.68L192.30 204.58L191.80 204.47L191.30 204.36L190.80 204.25L190.30 204.15L189.80 204.04L189.30 203.93L188.80 203.83L188.30 203.72L187.80 203.61L187.30 203.51L186.80 203.40L186.30 203.29L185.80 203.18L185.30 203.07L184.80 202.96L184.30 202.85L183.80 202.74L183.30 202.63L182.80 202.52L182.30 202.40L181.80 202.29L181.30 202.17L180.80 202.05L180.30 201.93L179.80 201.81L179.30 201.69L178.80 201.57L178.30 201.45L177.80 201.32L177.30 201.19L176.80 201.06L176.30 200.93L175.80 200.80L175.30 200.66L174.80 200.53L174.30 200.39L173.80 200.25L173.30 200.10L172.80 199.96L172.30 199.81L171.80 199.66L171.30 199.51L170.80 199.35L170.30 199.19L169.80 199.03L169.30 198.87L168.80 198.70L168.30 198.53L167.80 198.36L167.30 198.18L166.80 198.00L166.30 197.82L165.80 197.63L165.30 197.45L164.80 197.25L164.30 197.06L163.80 196.86L163.30 196.66L162.80 196.45L162.30 196.24L161.80 196.03L161.30 195.82L160.80 195.60L160.30 195.38L159.80 195.16L159.30 194.94L158.80 194.71L158.30 194.48L157.80 194.26L157.30 194.02L156.80 193.79L156.30 193.56L155.80 193.32L155.30 193.08L154.80 192.84L154.30 192.60L153.80 192.36L153.30 192.12L152.80 191.88L152.30 191.64L151.80 191.39L151.30 191.15L150.80 190.90L150.30 190.66L149.80 190.42L149.30 190.17L148.80 189.93L148.30 189.68L147.80 189.44L147.30 189.20L146.80 188.95L146.30 188.71L145.80 188.47L145.30 188.23L144.80 187.99L144.30 187.76L143.80 187.52L143.30 187.28L142.80 187.05L142.30 186.82L141.80 186.59L141.30 186.36L140.80 186.14L140.30 185.91L139.80 185.69L139.30 185.47L138.80 185.26L138.30 185.04L137.80 184.83L137.30 184.62L136.80 184.41L136.30 184.21L135.80 184.01L135.30 183.81L134.80 183.62L134.30 183.43L133.80 183.24L133.30 183.06L132.80 182.88L132.30 182.70L131.80 182.53L131.30 182.36L130.80 182.19L130.30 182.03L129.80 181.88L129.30 181.73L128.80 181.58L128.30 181.43L127.80 181.29L127.30 181.16L126.80 181.02L126.30 180.89L125.80 180.76L125.30 180.63L124.80 180.50L124.30 180.37L123.80 180.25L123.30 180.12L122.80 180.00L122.30 179.87L121.80 179.75L121.30 179.62L120.80 179.50L120.30 179.37L119.80 179.24L119.30 179.11L118.80 178.98L118.30 178.84L117.80 178.70L117.30 178.56L116.80 178.41L116.30 178.26L115.80 178.11L115.30 177.95L114.80 177.79L114.30 177.62L113.80 177.45L113.30 177.28L112.80 177.10L112.30 176.91L111.80 176.73L111.30 176.53L110.80 176.34L110.30 176.14L109.80 175.94L109.30 175.74L108.80 175.53L108.30 175.32L107.80 175.11L107.30 174.89L106.80 174.67L106.30 174.45L105.80 174.22L105.30 173.98L104.80 173.73L104.30 173.47L103.80 173.19L103.30 172.90L102.80 172.60L102.30 172.28L101.80 171.94L101.30 171.58L100.80 171.20L100.30 170.80L99.80 170.37L99.30 169.92L98.80 169.44L98.30 168.93L97.80 168.39L97.30 167.82L96.80 167.22L96.30 166.59L95.80 165.92L95.30 165.21L94.80 164.46L94.30 163.68L93.80 162.86L93.30 162.01L92.80 161.12L92.30 160.21L91.80 159.28L91.30 158.33L90.80 157.35L90.30 156.36L89.80 155.36L89.30 154.35L88.80 153.34L88.30 152.32L87.80 151.30L87.30 150.28L86.80 149.27L86.30 148.27L85.80 147.28L85.30 146.30L84.80 145.34L84.30 144.40L83.80 143.48L83.30 142.59L82.80 141.73L82.30 140.90L81.80 140.10L81.30 139.35L80.80 138.63L80.30 137.96L79.80 137.34L79.30 136.76L78.80 136.24L78.30 135.77L77.80 135.36L77.30 135.02L76.80 134.73Z" fill="#ccc" fill-opacity="0.4"/>
<path d="M76.80 146.25L77.30 146.10L77.80 146.05L78.30 146.10L78.80 146.24L79.30 146.47L79.80 146.79L80.30 147.19L80.80 147.66L81.30 148.20L81.80 148.82L82.30 149.49L82.80 150.23L83.30 151.02L83.80 151.86L84.30 152.75L84.80 153.68L85.30 154.65L85.80 155.65L86.30 156.68L86.80 157.74L87.30 158.82L87.80 159.92L88.30 161.03L88.80 162.15L89.30 163.28L89.80 164.40L90.30 165.53L90.80 166.64L91.30 167.74L91.80 168.83L92.30 169.90L92.80 170.94L93.30 171.95L93.80 172.93L94.30 173.87L94.80 174.77L95.30 175.64L95.80 176.46L96.30 177.24L96.80 177.99L97.30 178.70L97.80 179.38L98.30 180.01L98.80 180.62L99.30 181.19L99.80 181.72L100.30 182.22L100.80 182.69L101.30 183.13L101.80 183.54L102.30 183.92L102.80 184.26L103.30 184.58L103.80 184.87L104.30 185.14L104.80 185.38L105.30 185.60L105.80 185.80L106.30 185.98L106.80 186.15L107.30 186.31L107.80 186.45L108.30 186.59L108.80 186.72L109.30 186.84L109.80 186.96L110.30 187.08L110.80 187.20L111.30 187.31L111.80 187.42L112.30 187.53L112.80 187.64L113.30 187.75L113.80 187.86L114.30 187.96L114.80 188.06L115.30 188.17L115.80 188.27L116.30 188.37L116.80 188.47L117.30 188.57L117.80 188.67L118.30 188.76L118.80 188.86L119.30 188.96L119.80 189.05L120.30 189.15L120.80 189.25L121.30 189.34L121.80 189.44L122.30 189.53L122.80 189.63L123.30 189.73L123.80 189.82L124.30 189.92L124.80 190.02L125.30 190.12L125.80 190.22L126.30 190.32L126.80 190.42L127.30 190.52L127.80 190.63L128.30 190.73L128.80 190.84L129.30 190.94L129.80 191.05L130.30 191.16L130.80 191.28L131.30 191.39L131.80 191.51L132.30 191.62L132.80 191.74L133.30 191.86L133.80 191.98L134.30 192.11L134.80 192.23L135.30 192.35L135.80 192.48L136.30 192.61L136.80 192.73L137.30 192.86L137.80 192.99L138.30 193.12L138.80 193.25L139.30 193.38L139.80 193.52L140.30 193.65L140.80 193.78L141.30 193.91L141.80 194.05L142.30 194.18L142.80 194.32L143.30 194.45L143.80 194.58L144.30 194.72L144.80 194.85L145.30 194.99L145.80 195.12L146.30 195.26L146.80 195.39L147.30 195.52L147.80 195.66L148.30 195.79L148.80 195.92L149.30 196.05L149.80 196.18L150.30 196.31L150.80 196.44L151.30 196.57L151.80 196.70L152.30 196.83L152.80 196.95L153.30 197.08L153.80 197.20L154.30 197.33L154.80 197.45L155.30 197.57L155.80 197.69L156.30 197.81L156.80 197.92L157.30 198.04L157.80 198.15L158.30 198.26L158.80 198.37L159.30 198.48L159.80 198.59L160.30 198.69L160.80 198.80L161.30 198.90L161.80 199.00L162.30 199.10L162.80 199.19L163.30 199.28L163.80 199.37L164.30 199.46L164.80 199.55L165.30 199.63L165.80 199.71L166.30 199.79L166.80 199.87L167.30 199.95L167.80 200.02L168.30 200.09L168.80 200.16L169.30 200.23L169.80 200.30L170.30 200.36L170.80 200.42L171.30 200.48L171.80 200.54L172.30 200.60L172.80 200.65L173.30 200.71L173.80 200.76L174.30 200.81L174.80 200.86L175.30 200.91L175.80 200.95L176.30 201.00L176.80 201.04L177.30 201.08L177.80 201.12L178.30 201.16L178.80 201.20L179.30 201.23L179.80 201.27L180.30 201.30L180.80 201.33L181.30 201.36L181.80 201.39L182.30 201.42L182.80 201.45L183.30 201.48L183.80 201.50L184.30 201.53L184.80 201.55L185.30 201.57L185.80 201.59L186.30 201.62L186.80 201.64L187.30 201.65L187.80 201.67L188.30 201.69L188.80 201.71L189.30 201.72L189.80 201.74L190.30 201.75L190.80 201.77L191.30 201.78L191.80 201.79L192.30 201.81L192.80 201.82L193.30 201.83L193.80 201.84L194.30 201.85L194.80 201.86L195.30 201.87L195.80 201.87L196.30 201.88L196.80 201.89L197.30 201.89L197.80 201.90L198.30 201.90L198.80 201.90L199.30 201.91L199.80 201.91L200.30 201.91L200.80 201.91L201.30 201.91L201.80 201.91L202.30 201.91L202.80 201.91L203.30 201.91L203.80 201.91L204.30 201.91L204.80 201.91L205.30 201.90L205.80 201.90L206.30 201.89L206.80 201.89L207.30 201.88L207.80 201.88L208.30 201.87L208.80 201.87L209.30 201.86L209.80 201.85L210.30 201.84L210.80 201.84L211.30 201.83L211.80 201.82L212.30 201.81L212.80 201.80L213.30 201.79L213.80 201.78L214.30 201.77L214.80 201.75L215.30 201.74L215.80 201.73L216.30 201.72L216.80 201.70L217.30 201.69L217.80 201.68L218.30 201.66L218.80 201.65L219.30 201.63L219.80 201.62L220.30 201.60L220.80 201.59L221.30 201.57L221.80 201.56L222.30 201.54L222.80 201.53L223.30 201.51L223.80 201.49L224.30 201.47L224.80 201.46L225.30 201.44L225.80 201.42L226.30 201.40L226.80 201.38L227.30 201.37L227.80 201.35L228.30 201.33L228.80 201.31L229.30 201.29L229.80 201.27L230.30 201.25L230.80 201.23L231.30 201.21L231.80 201.19L232.30 201.17L232.80 201.15L233.30 201.13L233.80 201.11L234.30 201.09L234.80 201.07L235.30 201.05L235.80 201.03L236.30 201.01L236.80 200.99L237.30 200.97L237.80 200.95L238.30 200.93L238.80 200.91L239.30 200.88L239.80 200.86L240.30 200.84L240.80 200.82L241.30 200.80L241.80 200.78L242.30 200.76L242.80 200.74L243.30 200.72L243.80 200.70L244.30 200.67L244.80 200.65L245.30 200.63L245.80 200.61L246.30 200.59L246.80 200.57L247.30 200.55L247.80 200.53L248.30 200.51L248.80 200.49L249.30 200.47L249.80 200.45L250.30 200.43L250.80 200.41L251.30 200.39L251.80 200.37L252.30 200.35L252.80 200.34L253.30 200.32L253.80 200.30L254.30 200.28L254.80 200.26L255.30 200.24L255.80 200.23L256.30 200.21L256.80 200.19L257.30 200.17L257.80 200.16L258.30 200.14L258.80 200.12L259.30 200.11L259.80 200.09L260.30 200.08L260.80 200.06L261.30 200.05L261.80 200.03L262.30 200.02L262.80 200.00L263.30 199.99L263.80 199.97L264.30 199.96L264.80 199.95L265.30 199.94L265.80 199.92L266.30 199.91L266.80 199.90L267.30 199.89L267.80 199.88L268.30 199.87L268.80 199.86L269.30 199.85L269.80 199.84L270.30 199.83L270.80 199.82L271.30 199.81L271.80 199.81L272.30 199.80L272.80 199.79L273.30 199.78L273.80 199.78L274.30 199.77L274.80 199.76L275.30 199.76L275.80 199.75L276.30 199.75L276.80 199.74L277.30 199.74L277.80 199.74L278.30 199.73L278.80 199.73L279.30 199.73L279.80 199.72L280.30 199.72L280.80 199.72L281.30 199.72L281.80 199.72L282.30 199.72L282.80 199.71L283.30 199.71L283.80 199.71L284.30 199.72L284.80 199.72L285.30 199.72L285.80 199.72L286.30 199.72L286.80 199.72L287.30 199.72L287.80 199.73L288.30 199.73L288.80 199.73L289.30 199.74L289.80 199.74L290.30 199.75L290.80 199.75L291.30 199.76L291.80 199.76L292.30 199.77L292.80 199.77L293.30 199.78L293.80 199.79L294.30 199.79L294.80 199.80L295.30 199.81L295.80 199.82L296.30 199.83L296.80 199.83L297.30 199.84L297.80 199.85L298.30 199.86L298.80 199.87L299.30 199.88L299.80 199.89L300.30 199.90L300.80 199.92L301.30 199.93L301.80 199.94L302.30 199.95L302.80 199.96L303.30 199.98L303.80 199.99L304.30 200.00L304.80 200.02L305.30 200.03L305.80 200.05L306.30 200.06L306.80 200.08L307.30 200.09L307.80 200.11L308.30 200.13L308.80 200.14L309.30 200.16L309.80 200.18L310.30 200.19L310.80 200.21L311.30 200.23L311.80 200.25L312.30 200.27L312.80 200.29L313.30 200.31L313.80 200.33L314.30 200.35L314.80 200.37L315.30 200.39L315.80 200.41L316.30 200.43L316.80 200.45L317.30 200.47L317.80 200.50L318.30 200.52L318.80 200.54L319.30 200.56L319.80 200.59L320.30 200.61L320.80 200.64L321.30 200.66L321.80 200.69L322.30 200.71L322.80 200.74L323.30 200.76L323.80 200.79L324.30 200.81L324.80 200.84L325.30 200.87L325.80 200.90L326.30 200.92L326.80 200.95L327.30 200.98L327.80 201.01L328.30 201.04L328.80 201.07L329.30 201.10L329.80 201.13L330.30 201.16L330.80 201.19L331.30 201.22L331.80 201.25L332.30 201.28L332.80 201.31L333.30 201.34L333.80 201.38L334.30 201.41L334.80 201.44L335.30 201.47L335.80 201.51L336.30 201.54L336.80 201.58L337.30 201.61L337.80 201.65L338.30 201.68L338.80 201.72L339.30 201.75L339.80 201.79L340.30 201.82L340.80 201.86L341.30 201.90L341.80 201.94L342.30 201.97L342.80 202.01L343.30 202.05L343.80 202.09L344.30 202.13L344.80 202.17L345.30 202.20L345.80 202.24L346.30 202.28L346.80 202.33L347.30 202.37L347.80 202.41L348.30 202.45L348.80 202.49L349.30 202.53L349.80 202.57L350.30 202.62L350.80 202.66L351.30 202.70L351.80 202.74L352.30 202.79L352.80 202.83L353.30 202.88L353.80 202.92L354.30 202.97L354.80 203.01L355.30 203.06L355.80 203.10L356.30 203.15L356.80 203.19L357.30 203.24L357.80 203.29L358.30 203.34L358.80 203.38L359.30 203.43L359.80 203.48L360.30 203.53L360.80 203.58L361.30 203.63L361.80 203.67L362.30 203.72L362.80 203.77L363.30 203.82L363.80 203.87L364.30 203.93L364.80 203.98L365.30 204.03L365.80 204.08L366.30 204.13L366.80 204.18L367.30 204.24L367.80 204.29L368.30 204.34L368.80 204.40L369.30 204.45L369.80 204.50L370.30 204.56L370.80 204.61L371.30 204.67L371.80 204.72L372.30 204.78L372.80 204.83L373.30 204.89L373.80 204.95L374.30 205.00L374.80 205.06L375.30 205.12L375.80 205.17L376.30 205.23L376.80 205.29L377.30 205.35L377.80 205.41L378.30 205.47L378.80 205.52L379.30 205.58L379.80 205.64L380.30 205.70L380.80 205.76L381.30 205.82L381.80 205.89L382.30 205.95L382.80 206.01L383.30 206.07L383.80 206.13L384.30 206.19L384.80 206.26L385.30 206.32L385.80 206.38L386.30 206.45L386.80 206.51L387.30 206.57L387.80 206.64L388.30 206.70L388.80 206.77L389.30 206.83L389.80 206.90L390.30 206.96L390.80 207.03L391.30 207.10L391.80 207.16L392.30 207.23L392.80 207.30L393.30 207.36L393.80 207.43L394.30 207.50L394.80 207.57L395.30 207.64L395.80 207.70L396.30 207.77L396.80 207.84L397.30 207.91L397.70 207.97" class="lp"/>
<path d="M77.10 119.91L77.60 119.74L78.10 119.67L78.60 119.69L79.10 119.79L79.60 119.97L80.10 120.24L80.60 120.57L81.10 120.98L81.60 121.45L82.10 121.98L82.60 122.57L83.10 123.21L83.60 123.91L84.10 124.64L84.60 125.42L85.10 126.24L85.60 127.09L86.10 127.97L86.60 128.87L87.10 129.79L87.60 130.73L88.10 131.69L88.60 132.66L89.10 133.63L89.60 134.61L90.10 135.58L90.60 136.56L91.10 137.52L91.60 138.48L92.10 139.42L92.60 140.34L93.10 141.24L93.60 142.12L94.10 142.97L94.60 143.79L95.10 144.58L95.60 145.35L96.10 146.09L96.60 146.81L97.10 147.50L97.60 148.17L98.10 148.82L98.60 149.44L99.10 150.04L99.60 150.62L100.10 151.18L100.60 151.71L101.10 152.23L101.60 152.73L102.10 153.21L102.60 153.66L103.10 154.11L103.60 154.53L104.10 154.94L104.60 155.33L105.10 155.71L105.60 156.07L106.10 156.41L106.60 156.74L107.10 157.06L107.60 157.37L108.10 157.66L108.60 157.94L109.10 158.21L109.60 158.47L110.10 158.72L110.60 158.96L111.10 159.19L111.60 159.41L112.10 159.62L112.60 159.83L113.10 160.03L113.60 160.22L114.10 160.41L114.60 160.59L115.10 160.76L115.60 160.94L116.10 161.11L116.60 161.27L117.10 161.43L117.60 161.59L118.10 161.75L118.60 161.90L119.10 162.05L119.60 162.19L120.10 162.33L120.60 162.48L121.10 162.61L121.60 162.75L122.10 162.88L122.60 163.02L123.10 163.15L123.60 163.28L124.10 163.41L124.60 163.53L125.10 163.66L125.60 163.79L126.10 163.91L126.60 164.04L127.10 164.16L127.60 164.28L128.10 164.41L128.60 164.53L129.10 164.66L129.60 164.78L130.10 164.91L130.60 165.04L131.10 165.17L131.60 165.30L132.10 165.43L132.60 165.56L133.10 165.70L133.60 165.83L134.10 165.97L134.60 166.11L135.10 166.26L135.60 166.40L136.10 166.55L136.60 166.70L137.10 166.86L137.60 167.01L138.10 167.18L138.60 167.34L139.10 167.51L139.60 167.67L140.10 167.84L140.60 168.02L141.10 168.19L141.60 168.37L142.10 168.55L142.60 168.73L143.10 168.91L143.60 169.10L144.10 169.29L144.60 169.47L145.10 169.66L145.60 169.85L146.10 170.04L146.60 170.23L147.10 170.43L147.60 170.62L148.10 170.81L148.60 171.01L149.10 171.20L149.60 171.40L150.10 171.59L150.60 171.79L151.10 171.98L151.60 172.17L152.10 172.37L152.60 172.56L153.10 172.75L153.60 172.95L154.10 173.14L154.60 173.33L155.10 173.52L155.60 173.71L156.10 173.89L156.60 174.08L157.10 174.26L157.60 174.45L158.10 174.63L158.60 174.81L159.10 174.98L159.60 175.16L160.10 175.33L160.60 175.50L161.10 175.67L161.60 175.84L162.10 176.01L162.60 176.18L163.10 176.34L163.60 176.50L164.10 176.66L164.60 176.82L165.10 176.97L165.60 177.13L166.10 177.28L166.60 177.43L167.10 177.58L167.60 177.73L168.10 177.87L168.60 178.01L169.10 178.15L169.60 178.29L170.10 178.43L170.60 178.57L171.10 178.70L171.60 178.83L172.10 178.96L172.60 179.09L173.10 179.21L173.60 179.34L174.10 179.46L174.60 179.58L175.10 179.69L175.60 179.81L176.10 179.92L176.60 180.03L177.10 180.14L177.60 180.25L178.10 180.35L178.60 180.46L179.10 180.56L179.60 180.66L180.10 180.75L180.60 180.85L181.10 180.94L181.60 181.03L182.10 181.12L182.60 181.20L183.10 181.29L183.60 181.37L184.10 181.45L184.60 181.52L185.10 181.60L185.60 181.67L186.10 181.74L186.60 181.81L187.10 181.87L187.60 181.94L188.10 182.00L188.60 182.06L189.10 182.11L189.60 182.17L190.10 182.22L190.60 182.27L191.10 182.32L191.60 182.36L192.10 182.41L192.60 182.45L193.10 182.49L193.60 182.53L194.10 182.56L194.60 182.60L195.10 182.63L195.60 182.67L196.10 182.70L196.60 182.73L197.10 182.77L197.60 182.80L198.10 182.83L198.60 182.86L199.10 182.89L199.60 182.92L200.10 182.95L200.60 182.98L201.10 183.01L201.60 183.04L202.10 183.08L202.60 183.11L203.10 183.14L203.60 183.18L204.10 183.21L204.60 183.25L205.10 183.29L205.60 183.33L206.10 183.37L206.60 183.42L207.10 183.46L207.60 183.51L208.10 183.56L208.60 183.61L209.10 183.67L209.60 183.73L210.10 183.79L210.60 183.85L211.10 183.91L211.60 183.98L212.10 184.05L212.60 184.13L213.10 184.20L213.60 184.28L214.10 184.36L214.60 184.45L215.10 184.53L215.60 184.62L216.10 184.71L216.60 184.81L217.10 184.90L217.60 185.00L218.10 185.10L218.60 185.21L219.10 185.31L219.60 185.42L220.10 185.53L220.60 185.64L221.10 185.76L221.60 185.87L222.10 185.99L222.60 186.11L223.10 186.24L223.60 186.36L224.10 186.49L224.60 186.62L225.10 186.75L225.60 186.88L226.10 187.01L226.60 187.15L227.10 187.29L227.60 187.43L228.10 187.57L228.60 187.71L229.10 187.86L229.60 188.00L230.10 188.15L230.60 188.30L231.10 188.45L231.60 188.61L232.10 188.76L232.60 188.92L233.10 189.08L233.60 189.23L234.10 189.39L234.60 189.55L235.10 189.71L235.60 189.87L236.10 190.03L236.60 190.19L237.10 190.35L237.60 190.51L238.10 190.67L238.60 190.83L239.10 190.98L239.60 191.13L240.10 191.28L240.60 191.43L241.10 191.58L241.60 191.72L242.10 191.86L242.60 191.99L243.10 192.13L243.60 192.25L244.10 192.38L244.60 192.50L245.10 192.62L245.60 192.73L246.10 192.84L246.60 192.95L247.10 193.06L247.60 193.16L248.10 193.26L248.60 193.36L249.10 193.46L249.60 193.56L250.10 193.65L250.60 193.75L251.10 193.84L251.60 193.93L252.10 194.02L252.60 194.12L253.10 194.21L253.60 194.30L254.10 194.39L254.60 194.48L255.10 194.57L255.60 194.67L256.10 194.76L256.60 194.86L257.10 194.96L257.60 195.05L258.10 195.16L258.60 195.26L259.10 195.36L259.60 195.47L260.10 195.58L260.60 195.70L261.10 195.81L261.60 195.93L262.10 196.05L262.60 196.18L263.10 196.31L263.60 196.45L264.10 196.59L264.60 196.73L265.10 196.88L265.60 197.03L266.10 197.19L266.60 197.35L267.10 197.52L267.60 197.69L268.10 197.86L268.60 198.04L269.10 198.22L269.60 198.41L270.10 198.59L270.60 198.78L271.10 198.98L271.60 199.17L272.10 199.37L272.60 199.57L273.10 199.77L273.60 199.97L274.10 200.18L274.60 200.38L275.10 200.59L275.60 200.80L276.10 201.01L276.60 201.21L277.10 201.42L277.60 201.63L278.10 201.84L278.60 202.05L279.10 202.26L279.60 202.47L280.10 202.67L280.60 202.88L281.10 203.09L281.60 203.29L282.10 203.49L282.60 203.69L283.10 203.89L283.60 204.08L284.10 204.28L284.60 204.47L285.10 204.66L285.60 204.85L286.10 205.03L286.60 205.21L287.10 205.39L287.60 205.57L288.10 205.74L288.60 205.91L289.10 206.08L289.60 206.25L290.10 206.41L290.60 206.57L291.10 206.73L291.60 206.89L292.10 207.04L292.60 207.19L293.10 207.34L293.60 207.48L294.10 207.62L294.60 207.76L295.10 207.90L295.60 208.03L296.10 208.16L296.60 208.29L297.10 208.41L297.60 208.54L298.10 208.66L298.60 208.77L299.10 208.89L299.60 209.00L300.10 209.11L300.60 209.22L301.10 209.33L301.60 209.43L302.10 209.53L302.60 209.63L303.10 209.72L303.60 209.82L304.10 209.91L304.60 210.00L305.10 210.09L305.60 210.17L306.10 210.26L306.60 210.34L307.10 210.42L307.60 210.50L308.10 210.57L308.60 210.64L309.10 210.72L309.60 210.79L310.10 210.85L310.60 210.92L311.10 210.98L311.60 211.05L312.10 211.11L312.60 211.17L313.10 211.22L313.60 211.28L314.10 211.33L314.60 211.39L315.10 211.44L315.60 211.49L316.10 211.54L316.60 211.58L317.10 211.63L317.60 211.67L318.10 211.71L318.60 211.75L319.10 211.79L319.60 211.83L320.10 211.86L320.60 211.90L321.10 211.93L321.60 211.96L322.10 211.99L322.60 212.02L323.10 212.04L323.60 212.07L324.10 212.09L324.60 212.12L325.10 212.14L325.60 212.16L326.10 212.17L326.60 212.19L327.10 212.21L327.60 212.22L328.10 212.23L328.60 212.25L329.10 212.26L329.60 212.26L330.10 212.27L330.60 212.28L331.10 212.28L331.60 212.29L332.10 212.29L332.60 212.29L333.10 212.29L333.60 212.29L334.10 212.28L334.60 212.28L335.10 212.28L335.60 212.27L336.10 212.26L336.60 212.25L337.10 212.24L337.60 212.23L338.10 212.22L338.60 212.21L339.10 212.19L339.60 212.18L340.10 212.16L340.60 212.14L341.10 212.12L341.60 212.10L342.10 212.08L342.60 212.06L343.10 212.04L343.60 212.01L344.10 211.99L344.60 211.96L345.10 211.93L345.60 211.91L346.10 211.88L346.60 211.85L347.10 211.81L347.60 211.78L348.10 211.75L348.60 211.72L349.10 211.68L349.60 211.64L350.10 211.61L350.60 211.57L351.10 211.53L351.60 211.49L352.10 211.45L352.60 211.41L353.10 211.37L353.60 211.32L354.10 211.28L354.60 211.24L355.10 211.19L355.60 211.14L356.10 211.10L356.60 211.05L357.10 211.00L357.60 210.95L358.10 210.90L358.60 210.85L359.10 210.80L359.60 210.74L360.10 210.69L360.60 210.64L361.10 210.58L361.60 210.53L362.10 210.47L362.60 210.42L363.10 210.36L363.60 210.30L364.10 210.24L364.60 210.18L365.10 210.12L365.60 210.06L366.10 210.00L366.60 209.94L367.10 209.88L367.60 209.81L368.10 209.75L368.60 209.69L369.10 209.62L369.60 209.56L370.10 209.49L370.60 209.43L371.10 209.36L371.60 209.29L372.10 209.22L372.60 209.16L373.10 209.09L373.60 209.02L374.10 208.95L374.60 208.88L375.10 208.81L375.60 208.74L376.10 208.67L376.60 208.60L377.10 208.53L377.60 208.45L378.10 208.38L378.60 208.31L379.10 208.23L379.60 208.16L380.10 208.09L380.60 208.01L381.10 207.94L381.60 207.86L382.10 207.79L382.60 207.71L383.10 207.64L383.60 207.56L384.10 207.48L384.60 207.41L385.10 207.33L385.60 207.25L386.10 207.18L386.60 207.10L387.10 207.02L387.60 206.95L388.10 206.87L388.60 206.79L389.10 206.71L389.60 206.63L390.10 206.55L390.60 206.48L391.10 206.40L391.60 206.32L392.10 206.24L392.60 206.16L393.10 206.08L393.60 206.00L394.10 205.92L394.60 205.85L395.10 205.77L395.60 205.69L396.10 205.61L396.60 205.53L397.00 205.47" class="li"/>
<rect x="58.70" y="1.90" width="355.20" height="314.40" class="border"/>
<line x1="55.10" y1="272.70" x2="58.70" y2="272.70" class="tick"/>
<line x1="55.10" y1="187.37" x2="58.70" y2="187.37" class="tick"/>
<line x1="55.10" y1="102.04" x2="58.70" y2="102.04" class="tick"/>
<line x1="55.10" y1="16.70" x2="58.70" y2="16.70" class="tick"/>
<line x1="74.80" y1="316.30" x2="74.80" y2="319.90" class="tick"/>
<line x1="175.76" y1="316.30" x2="175.76" y2="319.90" class="tick"/>
<line x1="276.73" y1="316.30" x2="276.73" y2="319.90" class="tick"/>
<line x1="377.69" y1="316.30" x2="377.69" y2="319.90" class="tick"/>
<text x="52.2" y="277.20" class="tl" text-anchor="end">0.0</text>
<text x="52.2" y="191.87" class="tl" text-anchor="end">0.4</text>
<text x="52.2" y="106.54" class="tl" text-anchor="end">0.8</text>
<text x="52.2" y="21.20" class="tl" text-anchor="end">1.2</text>
<text x="74.80" y="331.2" class="tl" text-anchor="middle">0</text>
<text x="175.76" y="331.2" class="tl" text-anchor="middle">50</text>
<text x="276.73" y="331.2" class="tl" text-anchor="middle">100</text>
<text x="377.69" y="331.2" class="tl" text-anchor="middle">150</text>
<text x="236.4" y="365.2" class="at" text-anchor="middle">Minimum Number of Respondents Per Legislator</text>
<text transform="translate(12.7 159.5) rotate(-90)" class="at" text-anchor="middle">Difference Between Mean 2014 and 2016 Traits</text>
<text x="437.3" y="138.7" class="lg">Traits</text>
<rect x="437.7" y="145.3" width="21" height="21" fill="#000" fill-opacity="0.4"/>
<line x1="439.2" y1="155.8" x2="457.3" y2="155.8" class="lp"/>
<rect x="437.7" y="168.2" width="21" height="21" fill="#ccc" fill-opacity="0.4"/>
<line x1="439.2" y1="178.7" x2="457.4" y2="178.7" class="li" style="stroke-dasharray:2.7 2.45"/>
<text x="463" y="159.7" class="lt">Personality Traits</text>
<text x="463" y="182.4" class="lt">Ideology</text>
</svg>
</body></html>
